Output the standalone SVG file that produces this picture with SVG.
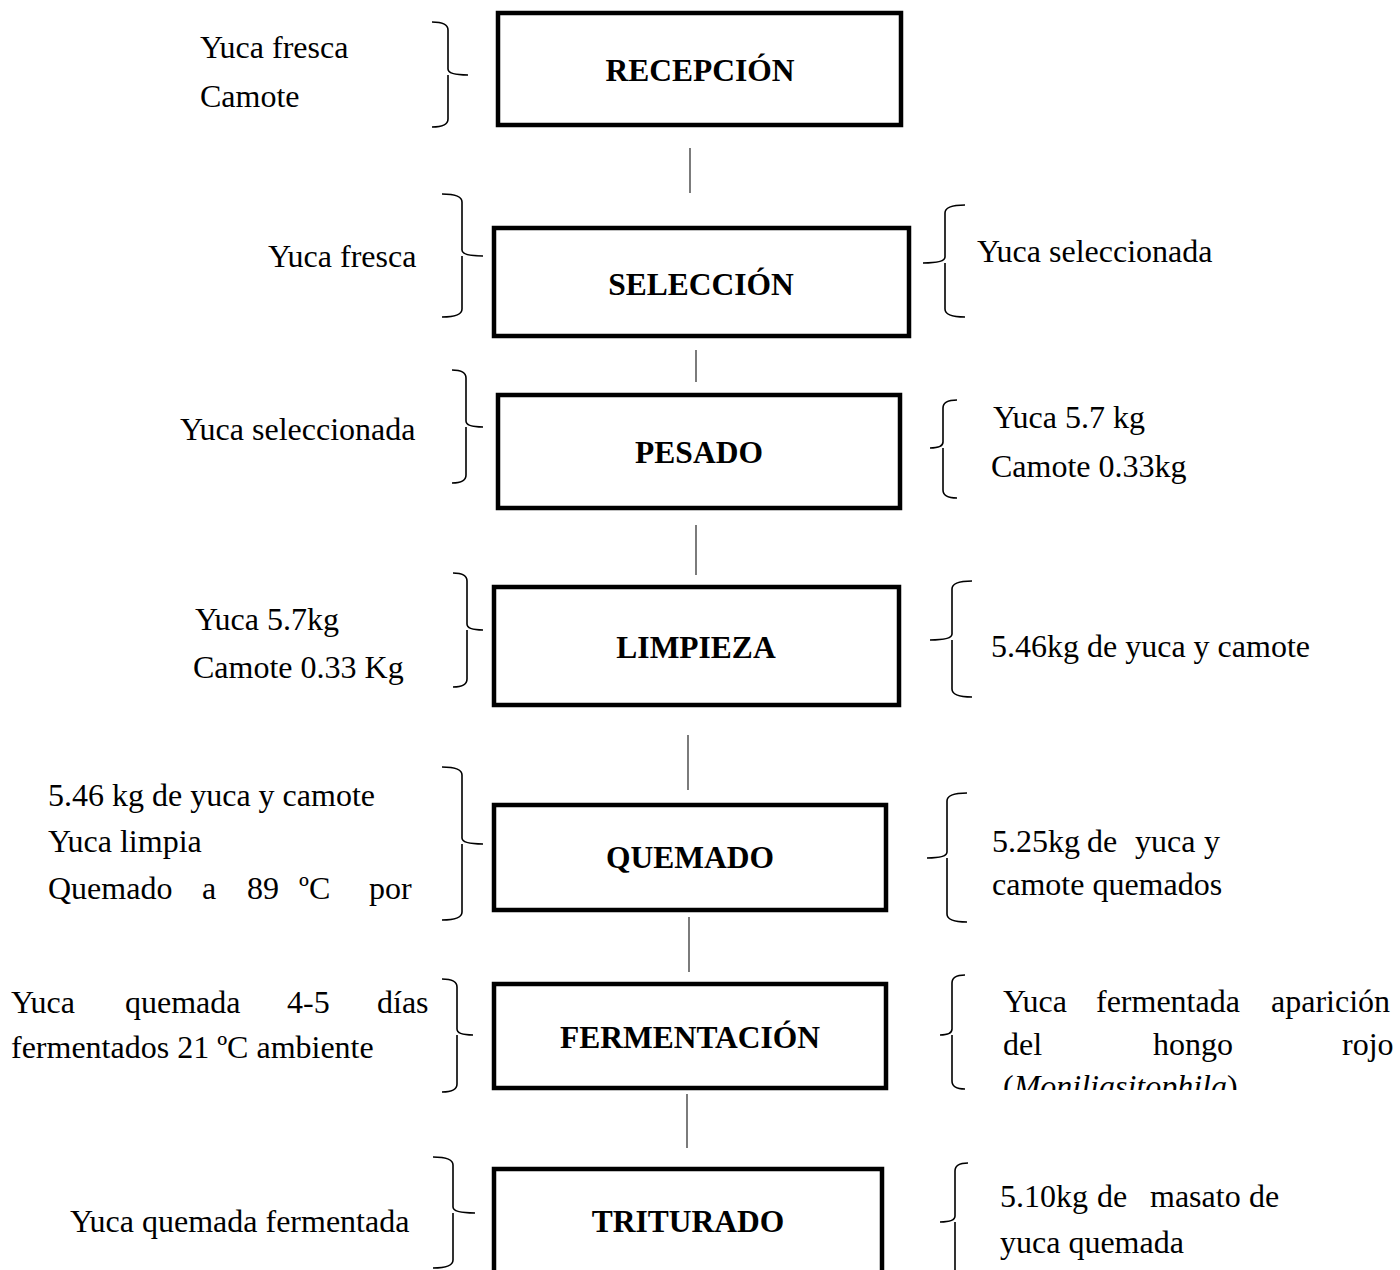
<svg xmlns="http://www.w3.org/2000/svg" width="1400" height="1270" viewBox="0 0 1400 1270">
  <style>
    .box { fill: #ffffff; stroke: #000000; stroke-width: 4.5; }
    .lbl { font-family: "Liberation Serif", "Times New Roman", serif; font-size: 31.5px; font-weight: bold; text-anchor: middle; fill: #000; }
    .txt { font-family: "Liberation Serif", "Times New Roman", serif; font-size: 32px; fill: #000; }
    .brace { fill: none; stroke: #000; stroke-width: 1.6; }
    .link { stroke: #444; stroke-width: 1.4; }
  </style>
  <defs>
    <clipPath id="clipFerm">
      <rect x="990" y="960" width="410" height="130"/>
    </clipPath>
  </defs>
  <rect width="1400" height="1270" fill="#ffffff"/>

  <!-- vertical connectors between steps -->
  <g id="connectors">
    <line class="link" x1="690" y1="148" x2="690" y2="193"/>
    <line class="link" x1="696" y1="350" x2="696" y2="382"/>
    <line class="link" x1="696" y1="525" x2="696" y2="575"/>
    <line class="link" x1="688" y1="735" x2="688" y2="790"/>
    <line class="link" x1="689" y1="917" x2="689" y2="972"/>
    <line class="link" x1="687" y1="1094" x2="687" y2="1148"/>
  </g>

  <!-- process steps -->
  <g id="recepcion">
    <rect class="box" x="498" y="13" width="403" height="112"/>
    <text class="lbl" x="700" y="81">RECEPCIÓN</text>
  </g>
  <g id="seleccion">
    <rect class="box" x="494" y="228" width="415" height="108"/>
    <text class="lbl" x="701" y="295">SELECCIÓN</text>
  </g>
  <g id="pesado">
    <rect class="box" x="498" y="395" width="402" height="113"/>
    <text class="lbl" x="699" y="463">PESADO</text>
  </g>
  <g id="limpieza">
    <rect class="box" x="494" y="587" width="405" height="118"/>
    <text class="lbl" x="696" y="658">LIMPIEZA</text>
  </g>
  <g id="quemado">
    <rect class="box" x="494" y="805" width="392" height="105"/>
    <text class="lbl" x="690" y="868">QUEMADO</text>
  </g>
  <g id="fermentacion">
    <rect class="box" x="494" y="984" width="392" height="104"/>
    <text class="lbl" x="690" y="1048">FERMENTACIÓN</text>
  </g>
  <g id="triturado">
    <rect class="box" x="494" y="1169" width="388" height="130"/>
    <text class="lbl" x="688" y="1232">TRITURADO</text>
  </g>

  <!-- inputs (left) -->
  <g id="in-recepcion">
    <path class="brace" d="M432,22 Q448,22 448,30 L448,69 Q448,75 468,75 M448,75 Q448,81 448,87 L448,119 Q448,127 432,127"/>
    <text class="txt" x="200" y="58">Yuca fresca</text>
    <text class="txt" x="200" y="107">Camote</text>
  </g>
  <g id="in-seleccion">
    <path class="brace" d="M442,194 Q462,194 462,202 L462,250 Q462,256 483,256 M462,256 Q462,262 462,268 L462,309 Q462,317 442,317"/>
    <text class="txt" x="268" y="267">Yuca fresca</text>
  </g>
  <g id="in-pesado">
    <path class="brace" d="M452,370 Q466,370 466,378 L466,421 Q466,427 483,427 M466,427 Q466,433 466,439 L466,475 Q466,483 452,483"/>
    <text class="txt" x="180" y="440">Yuca seleccionada</text>
  </g>
  <g id="in-limpieza">
    <path class="brace" d="M453,573 Q467,573 467,581 L467,624 Q467,630 483,630 M467,630 Q467,636 467,642 L467,679 Q467,687 453,687"/>
    <text class="txt" x="195" y="630">Yuca 5.7kg</text>
    <text class="txt" x="193" y="678">Camote 0.33 Kg</text>
  </g>
  <g id="in-quemado">
    <path class="brace" d="M442,767 Q462,767 462,775 L462,838 Q462,844 483,844 M462,844 Q462,850 462,856 L462,912 Q462,920 442,920"/>
    <text class="txt" x="48" y="806">5.46 kg de yuca y camote</text>
    <text class="txt" x="48" y="852">Yuca limpia</text>
    <text class="txt" y="899"><tspan x="48">Quemado</tspan><tspan x="202">a</tspan><tspan x="247">89</tspan><tspan x="299">ºC</tspan><tspan x="369">por</tspan></text>
  </g>
  <g id="in-fermentacion">
    <path class="brace" d="M442,979 Q457,979 457,987 L457,1029 Q457,1035 473,1035 M457,1035 Q457,1041 457,1047 L457,1084 Q457,1092 442,1092"/>
    <text class="txt" y="1013"><tspan x="11">Yuca</tspan><tspan x="125">quemada</tspan><tspan x="287">4-5</tspan><tspan x="377">días</tspan></text>
    <text class="txt" x="11" y="1058">fermentados 21 ºC ambiente</text>
  </g>
  <g id="in-triturado">
    <path class="brace" d="M433,1157 Q453,1157 453,1165 L453,1207 Q453,1213 475,1213 M453,1213 Q453,1219 453,1225 L453,1260 Q453,1268 433,1268"/>
    <text class="txt" x="70" y="1232">Yuca quemada fermentada</text>
  </g>

  <!-- outputs (right) -->
  <g id="out-seleccion">
    <path class="brace" d="M965,205 Q945,205 945,213 L945,257 Q945,263 923,263 M945,263 Q945,269 945,275 L945,309 Q945,317 965,317"/>
    <text class="txt" x="977" y="262">Yuca seleccionada</text>
  </g>
  <g id="out-pesado">
    <path class="brace" d="M957,400 Q943,400 943,408 L943,442 Q943,448 930,448 M943,448 Q943,454 943,460 L943,490 Q943,498 957,498"/>
    <text class="txt" x="993" y="428">Yuca 5.7 kg</text>
    <text class="txt" x="991" y="477">Camote 0.33kg</text>
  </g>
  <g id="out-limpieza">
    <path class="brace" d="M972,581 Q952,581 952,589 L952,634 Q952,640 930,640 M952,640 Q952,646 952,652 L952,689 Q952,697 972,697"/>
    <text class="txt" x="991" y="657">5.46kg de yuca y camote</text>
  </g>
  <g id="out-quemado">
    <path class="brace" d="M967,793 Q947,793 947,801 L947,852 Q947,858 927,858 M947,858 Q947,864 947,870 L947,914 Q947,922 967,922"/>
    <text class="txt" y="852"><tspan x="992">5.25kg</tspan><tspan x="1087">de</tspan><tspan x="1135">yuca</tspan><tspan x="1204">y</tspan></text>
    <text class="txt" x="992" y="895">camote quemados</text>
  </g>
  <g id="out-fermentacion">
    <path class="brace" d="M965,975 Q952,975 952,983 L952,1029 Q952,1035 940,1035 M952,1035 Q952,1041 952,1047 L952,1081 Q952,1089 965,1089"/>
    <text class="txt" y="1012"><tspan x="1003">Yuca</tspan><tspan x="1096">fermentada</tspan><tspan x="1271">aparición</tspan></text>
    <text class="txt" y="1055"><tspan x="1003">del</tspan><tspan x="1153">hongo</tspan><tspan x="1342">rojo</tspan></text>
    <text class="txt" x="1003" y="1097" clip-path="url(#clipFerm)">(<tspan font-style="italic">Moniliasitophila</tspan>)</text>
  </g>
  <g id="out-triturado">
    <path class="brace" d="M968,1163 Q955,1163 955,1171 L955,1216 Q955,1222 940,1222 M955,1222 Q955,1228 955,1234 L955,1270"/>
    <text class="txt" y="1207"><tspan x="1000">5.10kg</tspan><tspan x="1097">de</tspan><tspan x="1150">masato</tspan><tspan x="1249">de</tspan></text>
    <text class="txt" x="1000" y="1253">yuca quemada</text>
  </g>
</svg>
